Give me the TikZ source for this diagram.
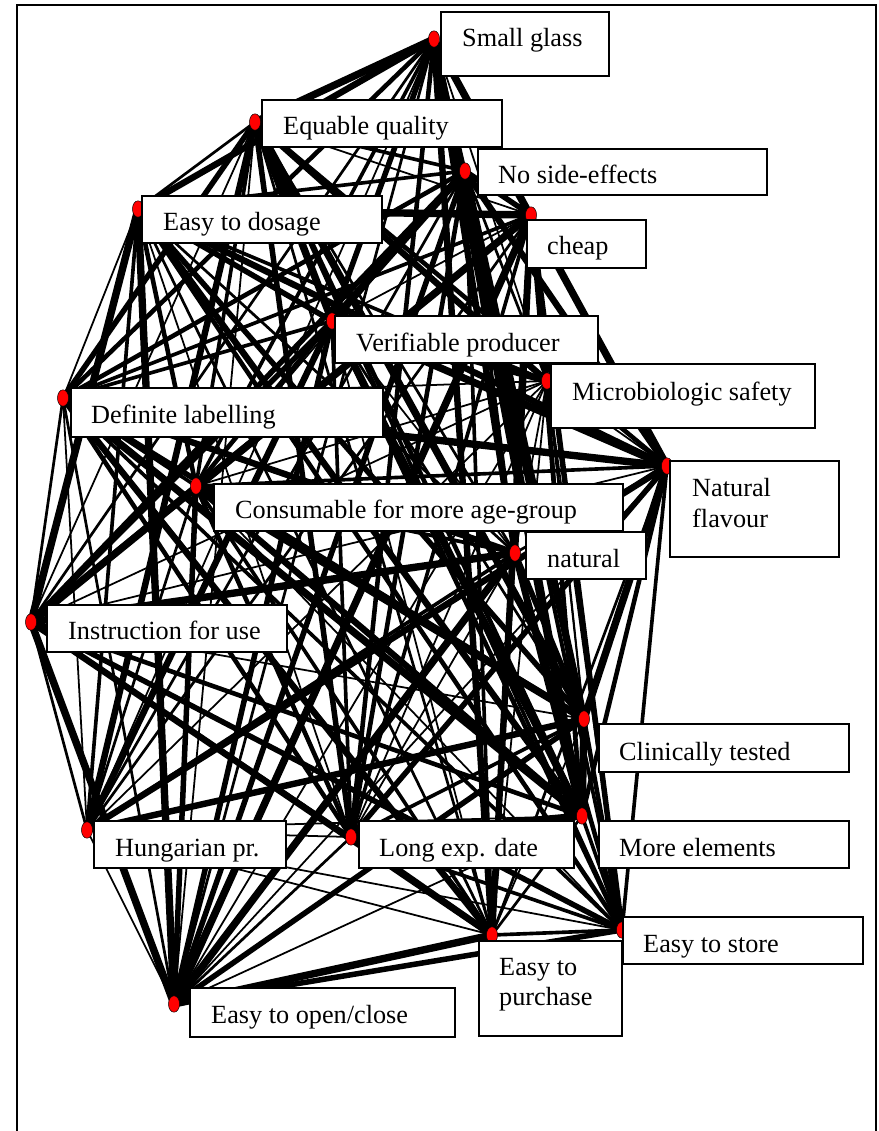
\documentclass[tikz,border=0pt]{standalone}
\usepackage{fontspec}
\setmainfont{Liberation Serif}
\usetikzlibrary{shapes.geometric,backgrounds}
\tikzset{
  dot/.style={ellipse, draw=black, fill=red, line width=0.4pt, minimum width=9.5pt, minimum height=14pt, inner sep=0pt},
  labelbox/.style={draw=black, fill=white, line width=1.1pt},
  labeltext/.style={anchor=base west, inner sep=0pt, font=\fontsize{22.4}{27}\selectfont},
  link/.style={black, line cap=butt},
}
\begin{document}
\begin{tikzpicture}[x=0.03cm, y=-0.03cm]
	\useasboundingbox (0,0) rectangle (879,1131);
	%\draw[help lines, step=100] (0,0) grid (879,1131);
	\draw [line width=1.6pt] (17,1131) -- (17,5) -- (876,5) -- (876,1131);
	
	% attribute points
	\node [dot] (sg) at (434,39) {};
	\node [dot] (eq) at (255,122) {};
	\node [dot] (nse) at (465,171) {};
	\node [dot] (dos) at (138,209) {};
	\node [dot] (chp) at (531,215) {};
	\node [dot] (ver) at (332,321) {};
	\node [dot] (mic) at (547,381) {};
	\node [dot] (def) at (63,398) {};
	\node [dot] (nfl) at (667,466) {};
	\node [dot] (cons) at (196,486) {};
	\node [dot] (nat) at (515,553) {};
	\node [dot] (ins) at (31,622) {};
	\node [dot] (cli) at (584,719) {};
	\node [dot] (hun) at (87,830) {};
	\node [dot] (lng) at (351,837) {};
	\node [dot] (mor) at (582,816) {};
	\node [dot] (sto) at (622,930) {};
	\node [dot] (pur) at (492,935) {};
	\node [dot] (opn) at (174,1004) {};
	
	% links, every attribute with every other one
	\begin{pgfonlayer}{background}
	\foreach \a [count=\i] in {sg,eq,nse,dos,chp,ver,mic,def,nfl,cons,nat,ins,cli,hun,lng,mor,sto,pur,opn} {
		\foreach \b [count=\j] in {sg,eq,nse,dos,chp,ver,mic,def,nfl,cons,nat,ins,cli,hun,lng,mor,sto,pur,opn} {
			\ifnum\j>\i
				\pgfmathsetmacro{\w}{1.5+0.8*mod(13*\i*\i+7*\j*\j+3*\i*\j+\i,7)}
				\draw [link, line width=\w pt] (\a.center) -- (\b.center);
			\fi
		}
	}
	\end{pgfonlayer}
	
	% labels
	\draw [labelbox] (441,12) rectangle (609,76);
	\node [labeltext] (sgtext) at (462,47) {Small glass};
	\draw [labelbox] (262,100) rectangle (502,147);
	\node [labeltext] (eqtext) at (283,135) {Equable quality};
	\draw [labelbox] (478,149) rectangle (767,195);
	\node [labeltext] (nsetext) at (498,184) {No side-effects};
	\draw [labelbox] (142,196) rectangle (382,243);
	\node [labeltext] (dostext) at (163,231) {Easy to dosage};
	\draw [labelbox] (527,220) rectangle (646,268);
	\node [labeltext] (chptext) at (547,255) {cheap};
	\draw [labelbox] (335,316) rectangle (598,363);
	\node [labeltext] (vertext) at (356,351) {Verifiable producer};
	\draw [labelbox] (551,364) rectangle (815,428);
	\node [labeltext] (mictext) at (572,400) {Microbiologic safety};
	\draw [labelbox] (71,388) rectangle (383,437);
	\node [labeltext] (deftext) at (91,423) {Definite labelling};
	\draw [labelbox] (670,461) rectangle (839,557);
	\node [labeltext] (nfltext) at (692,496) {Natural};
	\node [labeltext] (nfltextb) at (692,527) {flavour};
	\draw [labelbox] (214,484) rectangle (623,531);
	\node [labeltext] (constext) at (235,518) {Consumable for more age-group};
	\draw [labelbox] (526,532) rectangle (646,579);
	\node [labeltext] (nattext) at (547,567) {natural};
	\draw [labelbox] (47,605) rectangle (287,652);
	\node [labeltext] (instext) at (68,639) {Instruction for use};
	\draw [labelbox] (599,724) rectangle (849,772);
	\node [labeltext] (clitext) at (619,760) {Clinically tested};
	\draw [labelbox] (94,821) rectangle (286,868);
	\node [labeltext] (huntext) at (115,856) {Hungarian pr.};
	\draw [labelbox] (359,821) rectangle (574,868);
	\node [labeltext] (lngtext) at (379,856) {Long exp. date};
	\draw [labelbox] (599,821) rectangle (849,868);
	\node [labeltext] (mortext) at (619,856) {More elements};
	\draw [labelbox] (623,917) rectangle (863,964);
	\node [labeltext] (stotext) at (643,952) {Easy to store};
	\draw [labelbox] (479,941) rectangle (622,1036);
	\node [labeltext] (purtext) at (499,975) {Easy to};
	\node [labeltext] (purtextb) at (499,1005) {purchase};
	\draw [labelbox] (190,988) rectangle (455,1037);
	\node [labeltext] (opntext) at (211,1023) {Easy to open/close};
	
\end{tikzpicture}
\end{document}
